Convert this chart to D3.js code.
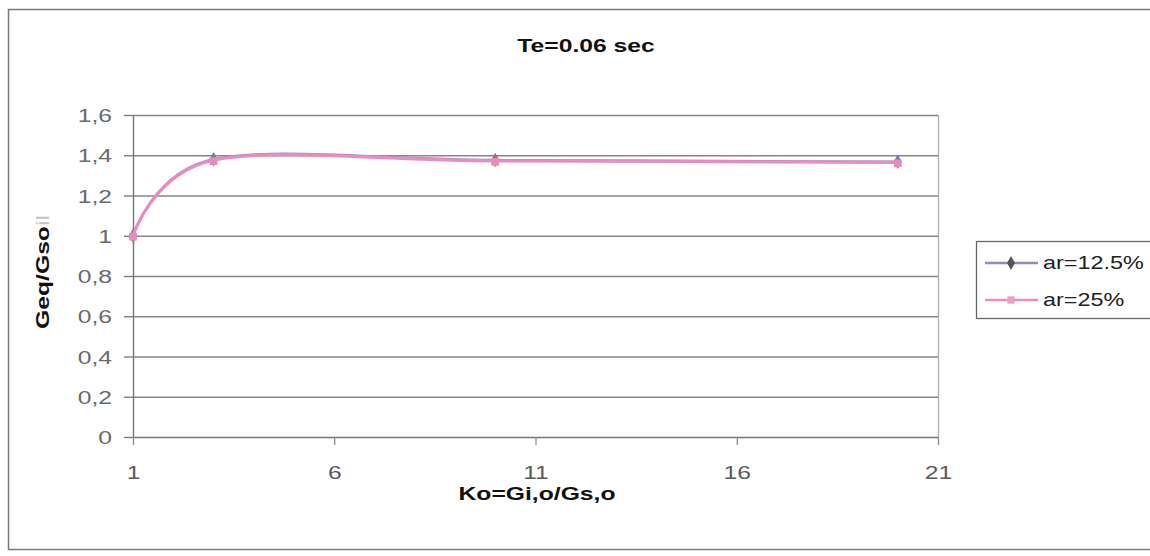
<!DOCTYPE html>
<html>
<head>
<meta charset="utf-8">
<script src="https://cdn.jsdelivr.net/npm/d3@7"></script>
<style>
  html, body { margin: 0; padding: 0; background: #fff; }
  svg { display: block; font-family: "Liberation Sans", Arial, sans-serif; }
</style>
</head>
<body>
<svg id="chart" width="1150" height="556"></svg>
<script>
// Ko = Gi,o / Gs,o values at which the ratio was computed
const koValues = [1, 3, 10, 20];
// Geq/Gsoil for each reinforcement ratio
const ar125 = [1.0, 1.38, 1.376, 1.368];
const ar25  = [1.0, 1.376, 1.372, 1.365];
const seriesNames = ["ar=12.5%", "ar=25%"];

const yTicks = [0, 0.2, 0.4, 0.6, 0.8, 1, 1.2, 1.4, 1.6];
const yTickLabels = ["0", "0,2", "0,4", "0,6", "0,8", "1", "1,2", "1,4", "1,6"];
const xTicks = [1, 6, 11, 16, 21];
const xTickLabels = ["1", "6", "11", "16", "21"];

const titleText = "Te=0.06 sec";
const xTitleText = "Ko=Gi,o/Gs,o";

const svg = d3.select("#chart");

// Text in this chart is set wide: stretch each label along its own direction
const STRETCH = 1.3;

// Outer chart frame
svg.append("rect")
  .attr("x", 8.5).attr("y", 9.5)
  .attr("width", 1160).attr("height", 540)
  .attr("fill", "#fff")
  .attr("stroke", "#7a7a7a").attr("stroke-width", 1.5);

const plot = { left: 133, right: 938, top: 115, bottom: 437 };

const x = d3.scaleLinear().domain([1, 21]).range([plot.left, plot.right]);
const y = d3.scaleLinear().domain([0, 1.6]).range([plot.bottom, plot.top]);

// Horizontal gridlines
svg.append("g")
  .selectAll("line")
  .data(yTicks.filter(d => d > 0))
  .join("line")
  .attr("x1", plot.left).attr("x2", plot.right)
  .attr("y1", d => y(d) + 0.5).attr("y2", d => y(d) + 0.5)
  .attr("stroke", "#868686").attr("stroke-width", 1.3);

// Right edge of the plot area
svg.append("line")
  .attr("x1", plot.right + 0.5).attr("x2", plot.right + 0.5)
  .attr("y1", plot.top).attr("y2", plot.bottom)
  .attr("stroke", "#b0b0b0").attr("stroke-width", 1.3);

// Y axis
const yAxis = svg.append("g")
  .attr("transform", `translate(${plot.left},0)`)
  .call(d3.axisLeft(y).tickValues(yTicks)
    .tickFormat((d, i) => yTickLabels[i]).tickSize(9).tickSizeOuter(0));
yAxis.select(".domain").attr("stroke", "#777").attr("stroke-width", 1.4);
yAxis.selectAll(".tick line").attr("stroke", "#777").attr("stroke-width", 1.3);
yAxis.selectAll(".tick text")
  .attr("x", 0).attr("dy", "0.35em")
  .attr("transform", `translate(-21,0) scale(${STRETCH},1)`)
  .attr("font-size", 19)
  .attr("font-family", "Liberation Sans, Arial, sans-serif")
  .attr("fill", "#6a6a6a");

// X axis
const xAxis = svg.append("g")
  .attr("transform", `translate(0,${plot.bottom})`)
  .call(d3.axisBottom(x).tickValues(xTicks)
    .tickFormat((d, i) => xTickLabels[i]).tickSize(8).tickSizeOuter(0));
xAxis.select(".domain").attr("stroke", "#777").attr("stroke-width", 1.4);
xAxis.selectAll(".tick line").attr("stroke", "#888").attr("stroke-width", 1.2);
xAxis.selectAll(".tick text")
  .attr("y", 0).attr("dy", 0)
  .attr("transform", `translate(0,42) scale(${STRETCH},1)`)
  .attr("font-size", 19)
  .attr("font-family", "Liberation Sans, Arial, sans-serif")
  .attr("fill", "#5a5a5a");

// Smoothed series lines
const line = d3.line()
  .x(d => x(d[0]))
  .y(d => y(d[1]))
  .curve(d3.curveCardinal.tension(0));

const s1 = koValues.map((k, i) => [k, ar125[i]]);
const s2 = koValues.map((k, i) => [k, ar25[i]]);

const blue = "#8b90b4";
const pink = "#ea8cc0";

svg.append("path").datum(s1)
  .attr("d", line).attr("fill", "none")
  .attr("stroke", blue).attr("stroke-width", 2.5);

svg.append("g").selectAll("path")
  .data(s1).join("path")
  .attr("d", d3.symbol(d3.symbolDiamond, 60))
  .attr("transform", d => `translate(${x(d[0])},${y(d[1])})`)
  .attr("fill", "#7a7d98");

svg.append("path").datum(s2)
  .attr("d", line).attr("fill", "none")
  .attr("stroke", pink).attr("stroke-width", 3.2);

svg.append("g").selectAll("path")
  .data(s2).join("path")
  .attr("d", d3.symbol(d3.symbolSquare, 60))
  .attr("transform", d => `translate(${x(d[0])},${y(d[1]) + 1})`)
  .attr("fill", "#e58bbd");

// Chart title
svg.append("text")
  .attr("transform", `translate(586,52) scale(${STRETCH},1)`)
  .attr("text-anchor", "middle")
  .attr("font-size", 19).attr("font-weight", "bold")
  .attr("fill", "#111")
  .text(titleText);

// X axis title
svg.append("text")
  .attr("transform", `translate(537,500) scale(${STRETCH},1)`)
  .attr("text-anchor", "middle")
  .attr("font-size", 19).attr("font-weight", "bold")
  .attr("fill", "#111")
  .text(xTitleText);

// Y axis title, with the faded "il" of Gsoil
const yTitle = svg.append("text")
  .attr("transform", `translate(49,272) rotate(-90) scale(${STRETCH},1)`)
  .attr("text-anchor", "middle")
  .attr("font-size", 19).attr("font-weight", "bold")
  .attr("fill", "#111");
yTitle.append("tspan").text("Geq/Gso");
yTitle.append("tspan").attr("fill", "#c4c4c4").attr("font-weight", "normal").text("il");

// Legend
const legend = svg.append("g");
legend.append("rect")
  .attr("x", 976.5).attr("y", 241.5)
  .attr("width", 180).attr("height", 77)
  .attr("fill", "#fff")
  .attr("stroke", "#666").attr("stroke-width", 1.3);

const legendRows = [
  { name: seriesNames[0], color: blue, symbol: d3.symbolDiamond, mark: "#555" },
  { name: seriesNames[1], color: pink, symbol: d3.symbolSquare, mark: "#e8a2c6" }
];
legendRows.forEach((r, i) => {
  const cy = 263 + i * 37;
  legend.append("line")
    .attr("x1", 985).attr("x2", 1038)
    .attr("y1", cy).attr("y2", cy)
    .attr("stroke", r.color).attr("stroke-width", 2.5);
  legend.append("path")
    .attr("d", d3.symbol(r.symbol, 55))
    .attr("transform", `translate(1011,${cy})`)
    .attr("fill", r.mark);
  legend.append("text")
    .attr("transform", `translate(1043,${cy}) scale(${STRETCH},1)`)
    .attr("dy", "0.35em")
    .attr("font-size", 18)
    .attr("fill", "#222")
    .text(r.name);
});
</script>
</body>
</html>
